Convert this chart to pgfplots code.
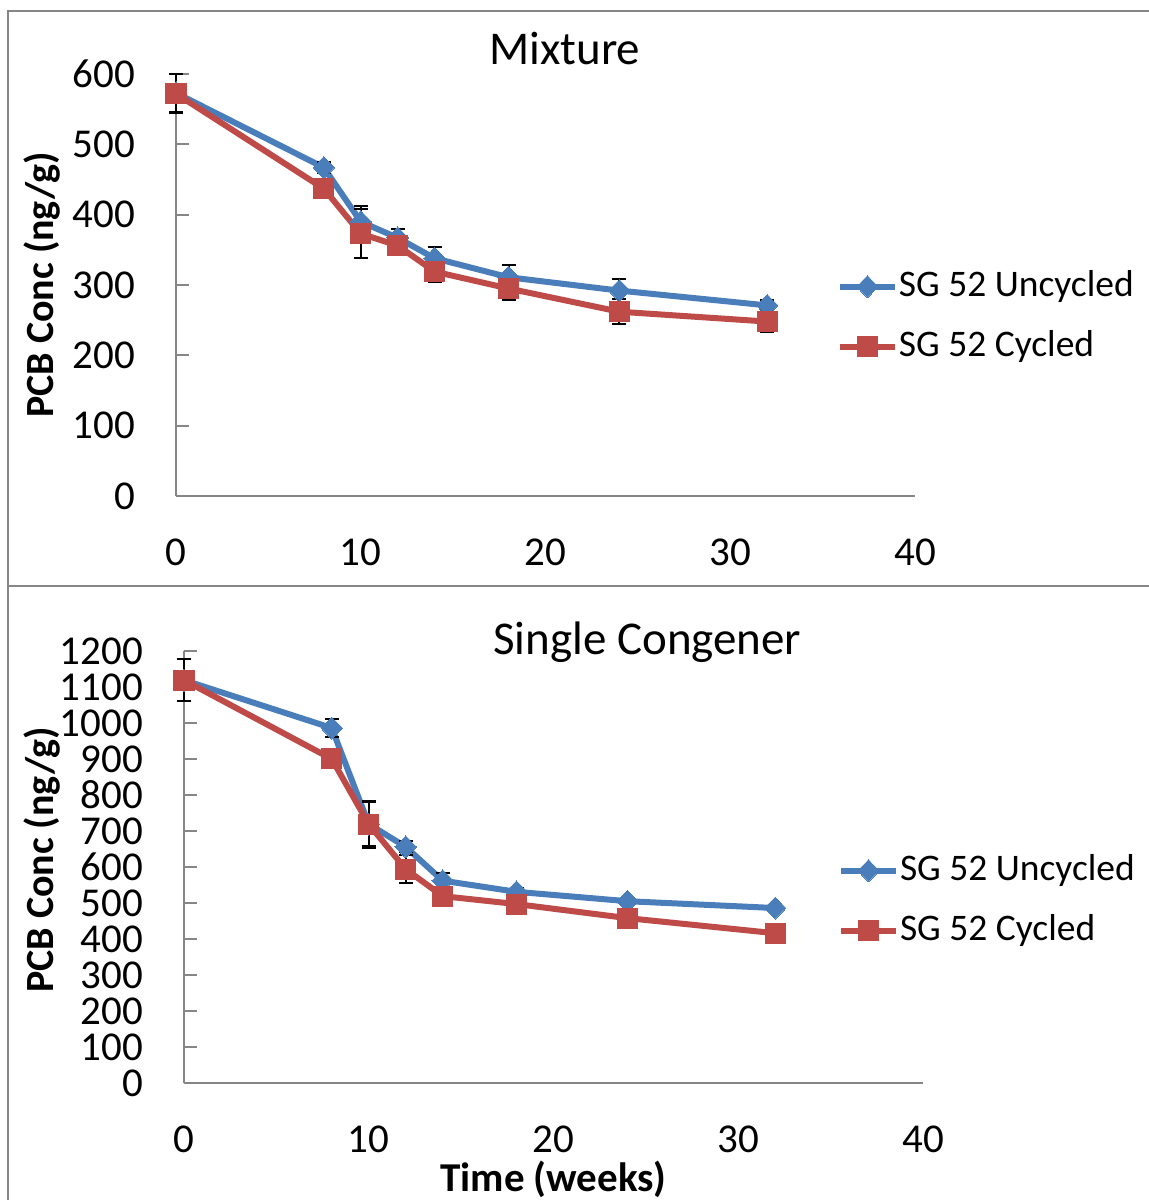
\documentclass[border=0pt]{standalone}
\usepackage{pgfplots}
\pgfplotsset{compat=1.18}
\usepackage{fontspec}
\setmainfont{Carlito}
\definecolor{sblue}{RGB}{74,126,187}
\definecolor{sred}{RGB}{190,75,72}
\definecolor{fgray}{RGB}{134,134,134}

\pgfplotstableread{
x y e
0 573 27
8 467 8
10 390 23
12 367 12
14 338 16
18 311 18
24 292 16
32 271 7
}\mixU
\pgfplotstableread{
x y e
0 572 28
8 437 8
10 373 35
12 356 10
14 319 15
18 295 17
24 262 18
32 248 15
}\mixC
\pgfplotstableread{
x y e
0 1119 58
8 986 25
10 719 62
12 656 15
14 562 22
18 531 12
24 505 8
32 486 6
}\sgU
\pgfplotstableread{
x y e
0 1119 58
8 900 12
10 719 65
12 594 38
14 519 12
18 497 8
24 458 8
32 416 8
}\sgC

\pgfplotsset{
  mystyle/.style={
    scale only axis, width=739pt,
    xmin=0, xmax=40, xtick={0,10,20,30,40},
    axis x line=bottom, axis y line=left,
    axis line style={-, fgray, line width=2pt},
    tick align=inside,
    major tick length=13pt,
    ytick style={fgray, line width=2pt},
    xtick style={draw=none},
    tick label style={font=\fontsize{41}{49}\selectfont},
    xticklabel style={anchor=north, inner sep=0pt, yshift=-43pt},
    yticklabel style={anchor=east, inner sep=0pt, xshift=-41pt},
    /pgf/number format/assume math mode=true,
    /pgf/number format/1000 sep={},
    clip=false,
    title style={font=\fontsize{47}{56}\selectfont, anchor=center},
    ylabel style={font=\bfseries\fontsize{40}{48}\selectfont, anchor=center, rotate=0},
    legend style={draw=none, fill=none, inner sep=0pt, outer sep=0pt,
      font=\fontsize{37.5}{45}\selectfont, anchor=west,
      row sep=25pt,
      nodes={inner sep=0pt, text height=27pt, text depth=8pt, anchor=west},
      /tikz/every odd column/.style={column sep=1pt}},
    legend cell align=left,
    legend image code/.code={\draw[mark repeat=2,mark phase=2,##1] plot coordinates {(0pt,0pt) (27.5pt,0pt) (55pt,0pt)};},
    ublue/.style={sblue, line width=6pt, mark=diamond*, mark size=11pt, mark options={sblue, xscale=1.3, line width=0pt}},
    ured/.style={sred, line width=6pt, mark=square*, mark size=10pt, mark options={sred, line width=0pt}},
    errb/.style={error bars/.cd, y dir=both, y explicit,
      error bar style={black, line width=2pt},
      error mark options={black, rotate=90, mark size=7pt, line width=2pt}},
  }
}

\begin{document}
\begin{tikzpicture}[x=1pt,y=1pt]
\useasboundingbox (0,0) rectangle (1149,1200);
\draw[fgray, line width=2pt] (8,-5) -- (8,1189) -- (1160,1189);
\draw[fgray, line width=2pt] (8,614) -- (1160,614);

\begin{axis}[mystyle, at={(176pt,704pt)}, anchor=south west, height=422pt,
  ymin=0, ymax=600, ytick={0,100,...,600},
  title={Mixture}, title style={at={(axis description cs:0.526,1.047)}},
  ylabel={PCB Conc (ng/g)}, ylabel style={at={(axis description cs:-0.181,0.5)}},
  legend style={at={(axis description cs:0.8944,0.425)}}]
\addplot[ublue, errb] table[x=x, y=y, y error=e] {\mixU};
\addlegendentry{SG 52 Uncycled}
\addplot[ured, errb] table[x=x, y=y, y error=e] {\mixC};
\addlegendentry{SG 52 Cycled}
\end{axis}

\begin{axis}[mystyle, at={(184pt,117pt)}, anchor=south west, height=432pt,
  ymin=0, ymax=1200, ytick={0,100,...,1200},
  title={Single Congener}, title style={at={(axis description cs:0.627,1.006)}},
  ylabel={PCB Conc (ng/g)}, ylabel style={at={(axis description cs:-0.192,0.516)}},
  xlabel={Time (weeks)}, xlabel style={font=\bfseries\fontsize{41}{49}\selectfont, anchor=center, at={(axis description cs:0.5,-0.222)}},
  legend style={at={(axis description cs:0.885,0.422)}}]
\addplot[ublue, errb] table[x=x, y=y, y error=e] {\sgU};
\addlegendentry{SG 52 Uncycled}
\addplot[ured, errb] table[x=x, y=y, y error=e] {\sgC};
\addlegendentry{SG 52 Cycled}
\end{axis}
\end{tikzpicture}
\end{document}
